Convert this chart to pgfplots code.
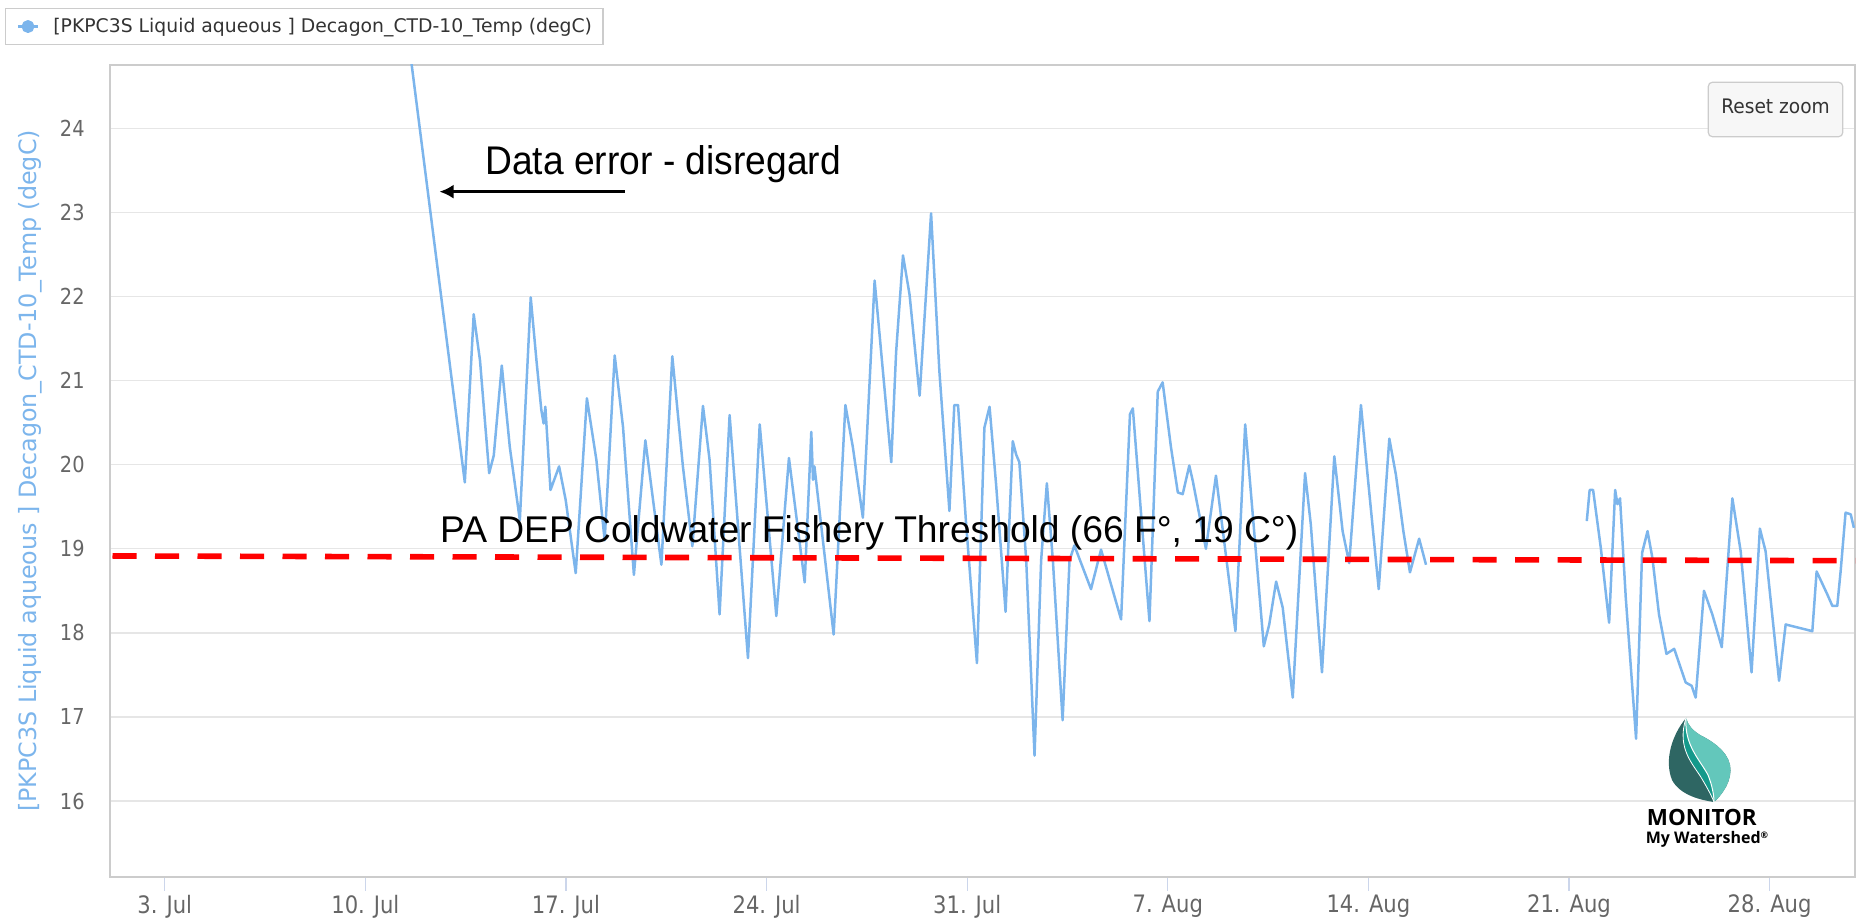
\documentclass[border=0pt]{standalone}
\usepackage{fontspec}
\usepackage{pgfplots}
\pgfplotsset{compat=1.18}
\usetikzlibrary{arrows.meta}
\setmainfont{DejaVu Sans}
\newfontfamily\hcfont[FakeStretch=0.93]{DejaVu Sans}
\newfontfamily\tickfont[FakeStretch=0.88]{DejaVu Sans}
\newfontfamily\dvfont{DejaVu Sans}
\newfontfamily\arialfont{Liberation Sans}
\newfontfamily\arialnarrow[FakeStretch=0.93]{Liberation Sans}
\newfontfamily\logofont{Open Sans}
\definecolor{hcblue}{RGB}{124,181,236}
\definecolor{ticklbl}{RGB}{102,102,102}
\definecolor{gridc}{RGB}{230,230,230}
\definecolor{framec}{RGB}{204,204,204}
\definecolor{tickc}{RGB}{204,214,235}
\definecolor{btnfill}{RGB}{247,247,247}
\definecolor{txtdark}{RGB}{51,51,51}
\definecolor{leafdark}{RGB}{46,102,99}
\definecolor{leafmid}{RGB}{20,153,139}
\definecolor{leaflight}{RGB}{99,199,187}
\begin{document}
\begin{tikzpicture}
\begin{axis}[
  at={(0pt,0pt)}, anchor=south west,
  scale only axis, width=872.5pt, height=406pt,
  xmin=1.089, xmax=61.98, ymin=15.096, ymax=24.755,
  clip mode=individual,
  axis line style={framec, line width=1.1pt},
  xtick={3,10,17,24,31,38,45,52,59},
  xticklabels={3. Jul,10. Jul,17. Jul,24. Jul,31. Jul,7. Aug,14. Aug,21. Aug,28. Aug},
  ytick={16,17,...,24},
  xtick pos=bottom, ytick pos=left,
  xtick align=outside, major tick length=7pt,
  xtick style={tickc, line width=0.6pt},
  ytick style={draw=none},
  ymajorgrids, grid style={gridc, line width=0.7pt},
  /pgf/number format/assume math mode=true,
  tick label style={color=ticklbl},
  xticklabel style={font=\fontsize{12}{13}\tickfont, anchor=north, inner sep=0pt, yshift=-1.8pt},
  yticklabel style={font=\fontsize{11}{12}\tickfont, anchor=east, inner sep=0pt, xshift=-12.5pt},
  ylabel={[PKPC3S Liquid aqueous ] Decagon\_CTD-10\_Temp (degC)},
  ylabel style={at={(axis description cs:-0.04585,0.5)}, anchor=center, font=\fontsize{11.9}{13}\dvfont, color=hcblue},
  legend style={at={(axis description cs:-0.06017,1.06983)}, anchor=north west, draw=framec, line width=0.6pt, fill=white,
    inner xsep=5.5pt, inner ysep=4.5pt, column sep=7pt, font=\fontsize{9.4}{11}\dvfont, text=txtdark, nodes={inner sep=0pt}},
  legend image code/.code={\draw[hcblue, line width=1.4pt] (0pt,0pt) -- (10pt,0pt); \fill[hcblue] (5pt,0pt) circle (2.6pt);},
]
\addplot[hcblue, line width=1.25pt, line join=round] coordinates {
(11.60,24.80) (13.47,19.79) (13.78,21.79) (14.00,21.24) (14.32,19.90) (14.48,20.11)
(14.76,21.18) (15.04,20.21) (15.39,19.34) (15.77,21.99) (15.97,21.24) (16.14,20.65)
(16.22,20.49) (16.28,20.69) (16.46,19.70) (16.76,19.98) (16.99,19.58) (17.34,18.71)
(17.73,20.79) (18.06,20.06) (18.35,19.10) (18.70,21.30) (18.99,20.45) (19.37,18.69)
(19.77,20.29) (20.33,18.81) (20.71,21.29) (21.08,19.98) (21.41,19.03) (21.78,20.70)
(22.01,20.06) (22.36,18.22) (22.71,20.59) (23.35,17.70) (23.76,20.48) (24.34,18.20)
(24.78,20.08) (25.33,18.60) (25.56,20.39) (25.62,19.82) (25.67,19.98) (26.34,17.98)
(26.75,20.71) (27.01,20.21) (27.36,19.37) (27.77,22.19) (28.06,21.11) (28.35,20.03)
(28.52,21.34) (28.76,22.49) (28.99,22.02) (29.34,20.82) (29.74,22.99) (30.03,21.11)
(30.38,19.45) (30.55,20.71) (30.68,20.71) (30.96,19.31) (31.34,17.64) (31.60,20.44)
(31.78,20.69) (32.01,19.76) (32.34,18.25) (32.59,20.28) (32.71,20.12) (32.82,20.03)
(33.06,18.86) (33.35,16.54) (33.58,18.86) (33.78,19.78) (33.99,18.86) (34.33,16.96)
(34.57,18.86) (34.74,19.04) (35.32,18.52) (35.67,18.99) (36.37,18.16) (36.68,20.60)
(36.78,20.67) (37.36,18.14) (37.65,20.87) (37.82,20.98) (38.11,20.21) (38.35,19.67)
(38.52,19.65) (38.75,19.99) (38.87,19.81) (39.33,19.00) (39.68,19.87) (40.36,18.02)
(40.70,20.48) (41.35,17.84) (41.54,18.10) (41.78,18.61) (42.01,18.30) (42.36,17.23)
(42.79,19.90) (42.99,19.29) (43.38,17.53) (43.81,20.10) (44.10,19.21) (44.33,18.83)
(44.74,20.71) (44.97,19.88) (45.36,18.52) (45.73,20.31) (45.96,19.88) (46.22,19.21)
(46.45,18.72) (46.77,19.12) (47.01,18.81)
};
\addlegendentry{[PKPC3S Liquid aqueous ] Decagon\_CTD-10\_Temp (degC)}
\addplot[hcblue, line width=1.25pt, line join=round, forget plot] coordinates {
(52.62,19.33) (52.72,19.70) (52.84,19.70) (53.11,19.01) (53.40,18.12) (53.61,19.70)
(53.69,19.53) (53.78,19.60) (53.98,18.42) (54.34,16.74) (54.55,18.95) (54.74,19.21)
(54.91,18.89) (55.14,18.22) (55.40,17.75) (55.67,17.81) (56.07,17.41) (56.28,17.37)
(56.42,17.23) (56.71,18.50) (57.00,18.22) (57.33,17.83) (57.70,19.60) (57.99,18.97)
(58.37,17.53) (58.66,19.24) (58.86,18.97) (59.33,17.43) (59.56,18.10) (60.49,18.02)
(60.64,18.73) (61.01,18.46) (61.19,18.32) (61.36,18.32) (61.48,18.74) (61.65,19.43)
(61.83,19.41) (61.94,19.25)
};
\draw[red, line width=2.8pt, dash pattern=on 12.1pt off 9.15pt, dash phase=20pt] (axis cs:1.089,18.915) -- (axis cs:61.98,18.858);
\node[anchor=base west, inner sep=0pt, font=\fontsize{18.6}{20}\arialfont] at (axis cs:12.597,19.07) {PA DEP Coldwater Fishery Threshold (66 F°, 19 C°)};
\node[anchor=base west, inner sep=0pt, font=\fontsize{20}{22}\arialnarrow] at (axis cs:14.17,23.455) {Data error - disregard};
\draw[black, line width=1.3pt, -{Latex[length=7pt,width=7pt]}] (axis cs:19.05,23.248) -- (axis cs:12.587,23.248);
\end{axis}
% Reset zoom button
\draw[framec, fill=btnfill, rounded corners=2pt, line width=0.6pt] (799.15pt,370.15pt) rectangle (866.35pt,397.35pt);
\node[anchor=base, inner sep=0pt, font=\fontsize{10}{12}\hcfont, text=txtdark] at (832.75pt,381.5pt) {Reset zoom};
% logo
\begin{scope}[x=1pt, y=1pt]
\fill[leafdark] (788,79.5) .. controls (781,71) and (777,58.5) .. (781,48.5) .. controls (785,41) and (795,38.5) .. (802,37.5) .. controls (806,41) and (811.5,48.5) .. (810,56) .. controls (808.5,63.5) and (800,68.5) .. (795,71) .. controls (791,73.5) and (789,76) .. cycle;
\fill[leaflight] (788,79.5) .. controls (787,66) and (795,58.5) .. (799,51) .. controls (801,46) and (802,41) .. (802,37.5) .. controls (806,41) and (811.5,48.5) .. (810,56) .. controls (808.5,63.5) and (800,68.5) .. (795,71) .. controls (791,73.5) and (789,76) .. cycle;
\fill[leafmid] (788,79.5) .. controls (783,64) and (792,56) .. (796,49) .. controls (799,44) and (801,40) .. (802,37.5) .. controls (802,41) and (801,46) .. (799,51) .. controls (795,58.5) and (787,66) .. cycle;
\draw[white, line width=0.5pt] (788,79.5) .. controls (787,66) and (795,58.5) .. (799,51) .. controls (801,46) and (802,41) .. (802,37.5);
\draw[white, line width=0.4pt] (788,79.5) .. controls (783,64) and (792,56) .. (796,49) .. controls (799,44) and (801,40) .. (802,37.5);
\end{scope}
\node[font=\fontsize{11.2}{12}\logofont\bfseries, anchor=base, inner sep=0pt] at (795.9pt,25.8pt) {MONITOR};
\node[font=\fontsize{8}{9}\logofont\bfseries, anchor=base, inner sep=0pt] at (798.5pt,16.8pt) {My Watershed\raisebox{2.6pt}{\fontsize{4.5}{5}\selectfont ®}};
\pgfresetboundingbox
\useasboundingbox (-55pt,-21pt) rectangle (873pt,438.5pt);
\end{tikzpicture}
\end{document}
